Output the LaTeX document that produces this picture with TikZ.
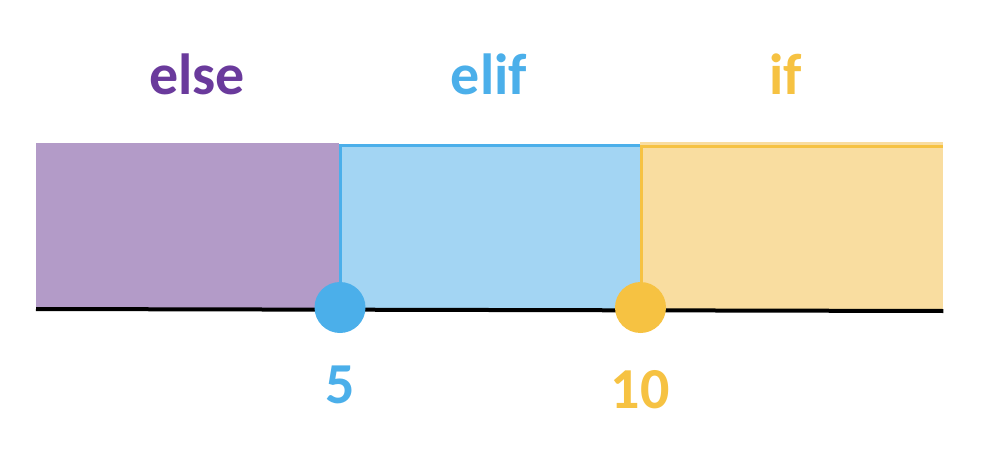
\documentclass[tikz,border=0pt]{standalone}
\usepackage{fontspec}
\setmainfont{Carlito}
\usetikzlibrary{positioning}

\definecolor{elsefill}{HTML}{B39BC8}
\definecolor{elsetext}{HTML}{6A3A9C}
\definecolor{eliffill}{HTML}{A3D5F3}
\definecolor{elifline}{HTML}{4BAFEA}
\definecolor{iffill}{HTML}{F9DDA0}
\definecolor{ifline}{HTML}{F6C242}

\begin{document}
\begin{tikzpicture}[x=1pt,y=-1pt,
    band/.style={inner sep=0pt,minimum width=303pt,minimum height=166pt,anchor=south west},
    dot/.style={circle,inner sep=0pt,minimum size=51pt},
    word/.style={font=\fontsize{58}{60}\selectfont\bfseries,anchor=base}]
    % \draw[help lines,step=50] (0,0) grid (982,468);
    \useasboundingbox (0,0) rectangle (982,468);

    \node[band,fill=elsefill]                    (else) at (36,309)  {};
    \node[band,fill=eliffill,minimum width=301pt] (elif) at (339,310) {};
    \node[band,fill=iffill,minimum height=169pt]  (if)   at (640,311) {};

    \draw[line width=4pt] (else.south west) -- (if.south east);
    \draw[elifline,line width=3pt] ([xshift=1.5pt]elif.south west) |- ([yshift=-1.5pt]elif.north east);
    \draw[ifline,line width=3pt] ([xshift=1.5pt]if.south west) |- ([yshift=-4.5pt]if.north east);

    \node[dot,fill=elifline] (five) at (340,307.5) {};
    \node[dot,fill=ifline]   (ten)  at (640.5,307.5) {};

    \node[word,text=elsetext] (elsename) at (197,95) {else};
    \node[word,text=elifline] (elifname) at (489,95) {elif};
    \node[word,text=ifline]   (ifname)   at (786,95) {if};
    \node[word,text=elifline] (fivename) at (340,403) {5};
    \node[word,text=ifline]   (tenname)  at (640,408) {10};
\end{tikzpicture}
\end{document}
